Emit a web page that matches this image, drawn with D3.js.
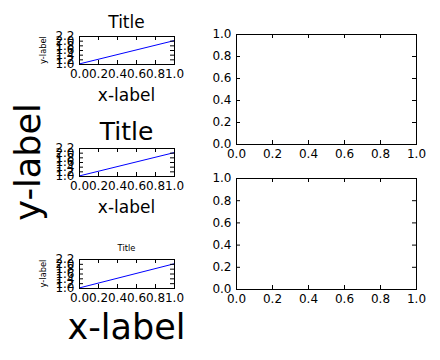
<!DOCTYPE html>
<html>
<head>
<meta charset="utf-8">
<script src="https://cdn.jsdelivr.net/npm/d3@7"></script>
<style>
  body { margin: 0; background: #fff; }
  svg { display: block; }
  text { font-family: "DejaVu Sans", sans-serif; fill: #000; }
</style>
</head>
<body>
<svg id="chart" width="440" height="360"></svg>
<script>

// data
const lineX = [0, 1];
const lineY = [1, 2];
const smallXTicks = [0, 0.2, 0.4, 0.6, 0.8, 1.0];
const smallYTicks = [1.0, 1.2, 1.4, 1.6, 1.8, 2.0, 2.2];
const emptyTicks = [0, 0.2, 0.4, 0.6, 0.8, 1.0];
const titleText = 'Title';
const xLabelText = 'x-label';
const yLabelText = 'y-label';

// layout: [left, right, top, bottom] in px, font sizes in px
const panels = [
    {box: [79, 174, 36, 64], plot: true, title: 17, xlabel: 17, ylabel: 8.3},
    {box: [79, 174, 148, 176], plot: true, title: 25, xlabel: 17, ylabel: 35},
    {box: [79, 174, 259, 288], plot: true, title: 8.3, xlabel: 35, ylabel: 8.3},
    {box: [236, 416, 34, 144], plot: false},
    {box: [236, 416, 178, 289], plot: false}
];

const svg = d3.select('#chart');
const fmt = d3.format('.1f');
const tickFont = 12;

panels.forEach(function (p) {

    const [x0, x1, y0, y1] = p.box;
    const xTicks = p.plot ? smallXTicks : emptyTicks;
    const yTicks = p.plot ? smallYTicks : emptyTicks;

    const x = d3.scaleLinear().domain([0, 1]).range([x0, x1]);
    const y = d3.scaleLinear()
        .domain(p.plot ? [1.0, 2.2] : [0, 1])
        .range([y1, y0]);

    const g = svg.append('g');

    if (p.plot) {
        const line = d3.line()
            .x(function (d, i) { return x(lineX[i]); })
            .y(function (d) { return y(d); });
        g.append('path')
            .datum(lineY)
            .attr('d', line)
            .attr('fill', 'none')
            .attr('stroke', '#0000ff')
            .attr('stroke-width', 1);
    }

    function styleAxis (sel) {
        sel.select('.domain').remove();
        sel.selectAll('.tick line').attr('stroke', '#000').attr('stroke-width', 1);
        sel.selectAll('.tick text')
            .style('font-size', tickFont + 'px')
            .style('font-family', '"DejaVu Sans", sans-serif')
            .attr('fill', '#000');
    }

    g.append('g')
        .attr('transform', 'translate(0,' + y1 + ')')
        .call(d3.axisBottom(x).tickValues(xTicks).tickFormat(fmt)
            .tickSizeInner(-4).tickSizeOuter(0).tickPadding(5.5))
        .call(styleAxis);

    g.append('g')
        .attr('transform', 'translate(' + x0 + ',0)')
        .call(d3.axisLeft(y).tickValues(yTicks).tickFormat(fmt)
            .tickSizeInner(-4).tickSizeOuter(0).tickPadding(4.5))
        .call(styleAxis);

    g.append('g')
        .attr('transform', 'translate(0,' + y0 + ')')
        .call(d3.axisTop(x).tickValues(xTicks).tickFormat('')
            .tickSizeInner(-4).tickSizeOuter(0))
        .call(styleAxis);

    g.append('g')
        .attr('transform', 'translate(' + x1 + ',0)')
        .call(d3.axisRight(y).tickValues(yTicks).tickFormat('')
            .tickSizeInner(-4).tickSizeOuter(0))
        .call(styleAxis);

    g.append('rect')
        .attr('x', x0 + 0.5)
        .attr('y', y0 + 0.5)
        .attr('width', x1 - x0)
        .attr('height', y1 - y0)
        .attr('fill', 'none')
        .attr('stroke', '#000')
        .attr('stroke-width', 1);

    if (p.plot) {
        const cx = (x0 + x1) / 2;
        const cy = (y0 + y1) / 2;

        g.append('text')
            .attr('x', cx)
            .attr('y', y0 - 8)
            .attr('text-anchor', 'middle')
            .style('font-size', p.title + 'px')
            .text(titleText);

        g.append('text')
            .attr('x', cx)
            .attr('y', y1 + 24 + 0.78 * p.xlabel)
            .attr('text-anchor', 'middle')
            .style('font-size', p.xlabel + 'px')
            .text(xLabelText);

        g.append('text')
            .attr('transform', 'translate(' + (48 - 0.236 * p.ylabel) + ',' + cy + ') rotate(-90)')
            .attr('text-anchor', 'middle')
            .style('font-size', p.ylabel + 'px')
            .text(yLabelText);
    }

});

</script>
</body>
</html>
